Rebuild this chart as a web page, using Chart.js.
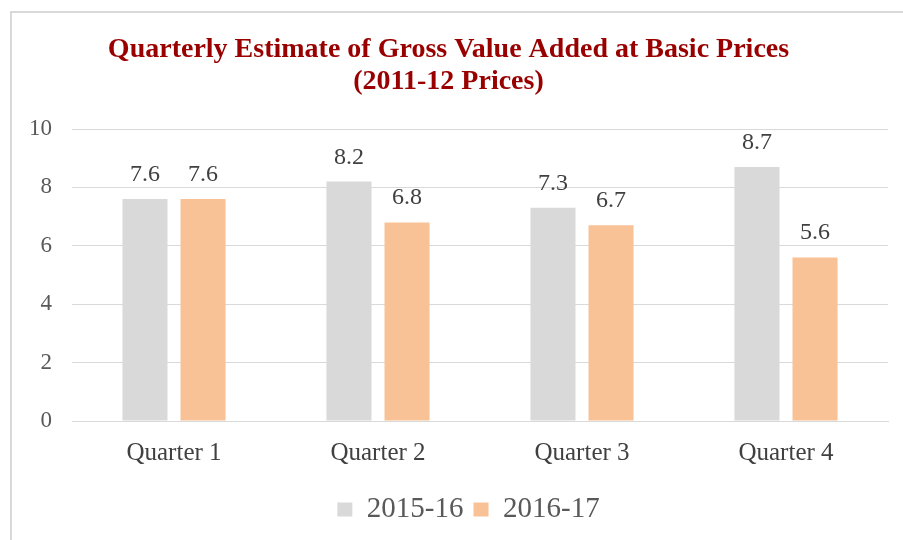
<!DOCTYPE html>
<html>
<head>
<meta charset="utf-8">
<script src="https://cdn.jsdelivr.net/npm/chart.js@4/dist/chart.umd.min.js"></script>
<style>
  html, body { margin: 0; padding: 0; background: #fff; overflow: hidden; }
  #wrap { position: relative; width: 903px; height: 540px; overflow: hidden; }
  #frame { position: absolute; left: 10px; top: 11px; width: 1000px; height: 600px;
           border-left: 2px solid #d9d9d9; border-top: 2px solid #d9d9d9; }
  #c { position: absolute; left: 12px; top: 13px; }
</style>
</head>
<body>
<div id="wrap">
  <div id="frame"></div>
  <canvas id="c" width="906" height="527" style="width:906px;height:527px"></canvas>
</div>
<script>
const categories = ['Quarter 1', 'Quarter 2', 'Quarter 3', 'Quarter 4'];
const series2015 = [7.6, 8.2, 7.3, 8.7];
const series2016 = [7.6, 6.8, 6.7, 5.6];
const seriesNames = ['2015-16', '2016-17'];
const titleLines = ['Quarterly Estimate of Gross Value Added at Basic Prices', '(2011-12 Prices)'];

const FONT = "'Liberation Serif', 'Times New Roman', serif";

const dataLabels = {
  id: 'dataLabels',
  afterDatasetsDraw(chart) {
    const ctx = chart.ctx;
    ctx.save();
    ctx.font = '24px ' + FONT;
    ctx.fillStyle = '#404040';
    ctx.textAlign = 'center';
    ctx.textBaseline = 'alphabetic';
    chart.data.datasets.forEach((ds, i) => {
      const meta = chart.getDatasetMeta(i);
      meta.data.forEach((bar, j) => {
        ctx.fillText(ds.data[j].toFixed(1), bar.x, bar.y - 18);
      });
    });
    ctx.restore();
  }
};

const legendShift = {
  id: 'legendShift',
  afterLayout(chart) {
    if (chart.legend) {
      chart.legend.left += 20;
      chart.legend.right += 20;
    }
  }
};

new Chart(document.getElementById('c'), {
  type: 'bar',
  data: {
    labels: categories,
    datasets: [
      { label: seriesNames[0], data: series2015, backgroundColor: '#d9d9d9',
        barPercentage: 0.776, categoryPercentage: 0.569 },
      { label: seriesNames[1], data: series2016, backgroundColor: '#f8c196',
        barPercentage: 0.776, categoryPercentage: 0.569 }
    ]
  },
  options: {
    responsive: false,
    animation: false,
    layout: { padding: { left: -3, right: 30, top: 0, bottom: 6 } },
    plugins: {
      title: {
        display: true,
        text: titleLines,
        color: '#990000',
        font: { family: FONT, size: 28, weight: 'bold', lineHeight: 1.143 },
        padding: { top: 21, bottom: 31 }
      },
      legend: {
        position: 'bottom',
        labels: {
          color: '#595959',
          font: { family: FONT, size: 29 },
          boxWidth: 15,
          boxHeight: 14,
          padding: 10
        }
      },
      tooltip: { enabled: false }
    },
    scales: {
      x: {
        grid: { display: false, drawTicks: false },
        border: { display: true, color: '#d9d9d9', width: 1 },
        ticks: { color: '#404040', font: { family: FONT, size: 25 }, padding: 17 }
      },
      y: {
        min: 0, max: 10,
        ticks: { stepSize: 2, color: '#595959', font: { family: FONT, size: 23 }, padding: 20 },
        grid: { color: '#d9d9d9', lineWidth: 1, drawTicks: false },
        border: { display: false }
      }
    }
  },
  plugins: [dataLabels, legendShift]
});
</script>
</body>
</html>
